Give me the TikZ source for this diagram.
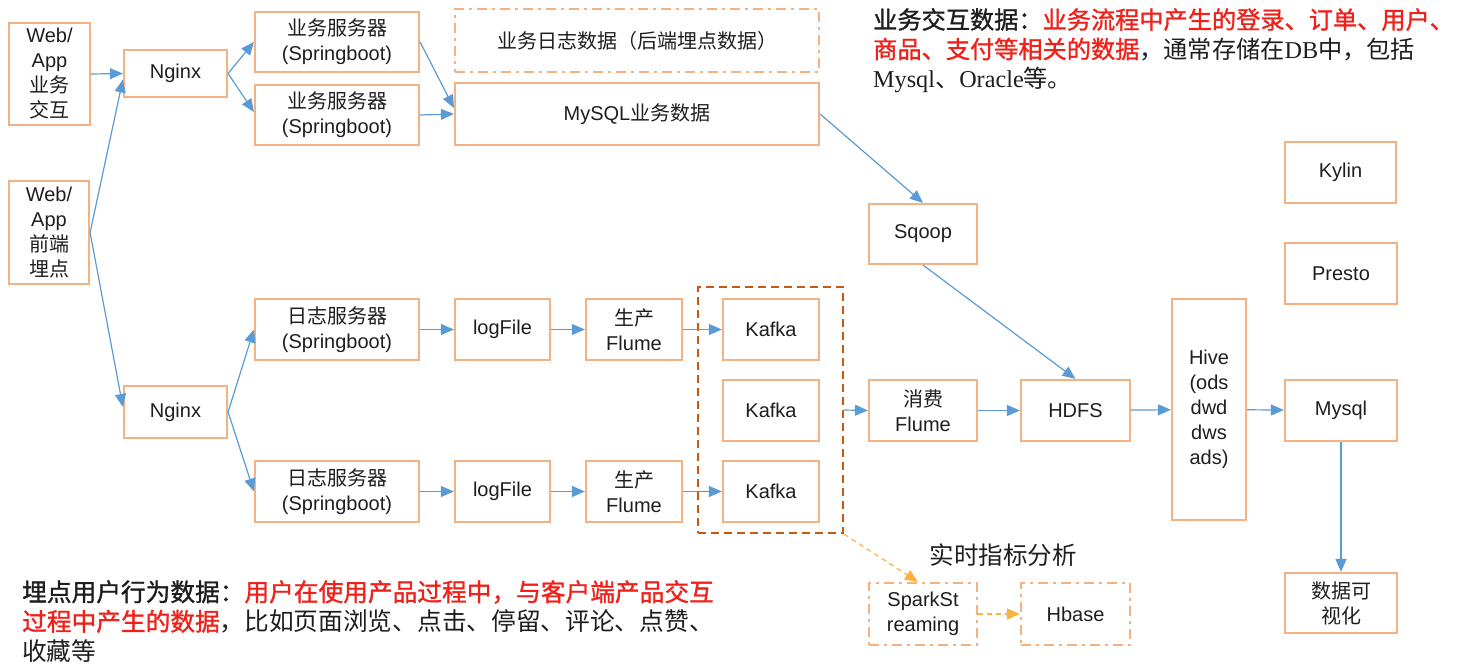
\documentclass[tikz,border=0pt]{standalone}
\usepackage{fontspec}
\setmainfont{Liberation Serif}
\setsansfont{Liberation Sans}
\newfontfamily\cjk{Noto Sans CJK SC}
\newfontfamily\cjkb[FakeBold=1.2]{Noto Sans CJK SC}
\usetikzlibrary{arrows.meta,calc}
\definecolor{boxc}{HTML}{F4B183}
\definecolor{arrc}{HTML}{5B9BD5}
\definecolor{kafc}{HTML}{C55A11}
\definecolor{goldc}{HTML}{F9B342}
\definecolor{redc}{HTML}{F0201A}
\definecolor{txtc}{HTML}{1E1E1E}
\newcommand\zh[1]{{\cjk #1}}
\tikzset{
  box/.style={draw=boxc, line width=2.2pt, align=center, inner sep=0pt, text=txtc,
    font=\sffamily\fontsize{20}{25}\selectfont},
  ddbox/.style={box, dash pattern=on 10pt off 5pt on 3pt off 5pt},
  arr/.style={draw=arrc, line width=1.2pt, -{Triangle[length=13pt,width=11pt]}},
  darr/.style={draw=goldc, line width=1.2pt, dash pattern=on 5pt off 4pt, -{Triangle[length=13pt,width=11pt]}},
  ann/.style={anchor=north west, align=left, inner sep=0pt, text=txtc, font=\fontsize{24.7}{29.5}\selectfont}
}
\begin{document}
\begin{tikzpicture}[x=1pt,y=-1pt]
\useasboundingbox (0,0) rectangle (1460,671);
% left sources
\node[box, minimum width=81pt, minimum height=102pt] (wa1) at (49.5,74) {Web/\\App\\\zh{业务}\\\zh{交互}};
\node[box, minimum width=80pt, minimum height=103pt] (wa2) at (49,232.5) {Web/\\App\\\zh{前端}\\\zh{埋点}};
\node[box, minimum width=103pt, minimum height=47pt] (ng1) at (175.5,73.5) {Nginx};
\node[box, minimum width=103pt, minimum height=52pt] (ng2) at (175.5,412) {Nginx};
% business servers
\node[box, minimum width=164pt, minimum height=60pt] (s1) at (337,42) {\zh{业务服务器}\\(Springboot)};
\node[box, minimum width=164pt, minimum height=60pt] (s2) at (337,115) {\zh{业务服务器}\\(Springboot)};
\node[ddbox, minimum width=364pt, minimum height=63pt] (logd) at (637,40.5) {\zh{业务日志数据（后端埋点数据）}};
\node[box, minimum width=364pt, minimum height=62pt] (mysqlb) at (637,114) {MySQL\zh{业务数据}};
\node[box, minimum width=108pt, minimum height=60pt] (sqoop) at (923,234) {Sqoop};
% log servers
\node[box, minimum width=164pt, minimum height=61pt] (ls1) at (337,329.5) {\zh{日志服务器}\\(Springboot)};
\node[box, minimum width=164pt, minimum height=61pt] (ls2) at (337,491.5) {\zh{日志服务器}\\(Springboot)};
\node[box, minimum width=95pt, minimum height=61pt] (lf1) at (502.5,329.5) {logFile};
\node[box, minimum width=95pt, minimum height=61pt] (lf2) at (502.5,491.5) {logFile};
\node[box, minimum width=96pt, minimum height=61pt] (fl1) at (634,329.5) {\zh{生产}\\Flume};
\node[box, minimum width=96pt, minimum height=61pt] (fl2) at (634,491.5) {\zh{生产}\\Flume};
% kafka
\node[draw=kafc, line width=2pt, dash pattern=on 8pt off 5pt, minimum width=145pt, minimum height=246pt, inner sep=0pt] (kbox) at (770.5,410) {};
\node[box, minimum width=96pt, minimum height=61pt] (k1) at (771,329.5) {Kafka};
\node[box, minimum width=96pt, minimum height=61pt] (k2) at (771,410.5) {Kafka};
\node[box, minimum width=96pt, minimum height=61pt] (k3) at (771,491.5) {Kafka};
\node[box, minimum width=108pt, minimum height=61pt] (xf) at (923,410.5) {\zh{消费}\\Flume};
\node[box, minimum width=109pt, minimum height=61pt] (hdfs) at (1075.5,410.5) {HDFS};
\node[box, minimum width=74pt, minimum height=221pt] (hive) at (1209,409.5) {Hive\\(ods\\dwd\\dws\\ads)};
\node[box, minimum width=111pt, minimum height=61pt] (kylin) at (1340.5,172.5) {Kylin};
\node[box, minimum width=112pt, minimum height=61pt] (presto) at (1341,273.5) {Presto};
\node[box, minimum width=112pt, minimum height=61pt] (mysql) at (1341,410.5) {Mysql};
\node[box, minimum width=112pt, minimum height=60pt] (vis) at (1341,603) {\zh{数据可}\\\zh{视化}};
\node[ddbox, minimum width=108pt, minimum height=62pt] (spark) at (923,614) {SparkSt\\reaming};
\node[ddbox, minimum width=109pt, minimum height=62pt] (hbase) at (1075.5,614) {Hbase};
\node[inner sep=0pt, text=txtc, font=\cjk\fontsize{24.5}{28}\selectfont] (rt) at (1003,555) {实时指标分析};
% arrows
\draw[arr] (wa1.east) -- (ng1.west);
\draw[arr] (wa2.east) -- ([yshift=-6pt]ng1.west);
\draw[arr] (wa2.east) -- ([yshift=5pt]ng2.west);
\draw[arr] (ng1.east) -- (s1.west);
\draw[arr] (ng1.east) -- ([yshift=3pt]s2.west);
\draw[arr] (s1.east) -- ([yshift=6pt]mysqlb.west);
\draw[arr] (s2.east) -- (mysqlb.west);
\draw[arr] (mysqlb.east) -- (sqoop.north);
\draw[arr] (sqoop.south) -- (hdfs.north);
\draw[arr] (ng2.east) -- (ls1.west);
\draw[arr] (ng2.east) -- (ls2.west);
\draw[arr] (ls1) -- (lf1);
\draw[arr] (lf1) -- (fl1);
\draw[arr] (fl1) -- (k1);
\draw[arr] (ls2) -- (lf2);
\draw[arr] (lf2) -- (fl2);
\draw[arr] (fl2) -- (k3);
\draw[arr] (kbox.east) -- (xf.west);
\draw[arr] (xf) -- (hdfs);
\draw[arr] (hdfs) -- (hive);
\draw[arr] (hive) -- (mysql);
\draw[arr] (mysql) -- (vis);
\draw[darr] (kbox.south east) -- ([xshift=-5pt]spark.north);
\draw[darr] (spark) -- (hbase);
% annotations
\node[ann, font=\fontsize{24.2}{29.5}\selectfont] (ann1) at (873,8) {{\cjkb 业务交互数据：}{\cjkb\color{redc}业务流程中产生的登录、订单、用户、}\\
{\cjkb\color{redc}商品、支付等相关的数据}{\cjk ，通常存储在}DB{\cjk 中，包括}\\
Mysql{\cjk 、}Oracle{\cjk 等。}};
\node[ann] (ann2) at (22,580) {{\cjkb 埋点用户行为数据：}{\cjkb\color{redc}用户在使用产品过程中，与客户端产品交互}\\
{\cjkb\color{redc}过程中产生的数据}{\cjk ，比如页面浏览、点击、停留、评论、点赞、}\\
{\cjk 收藏等}};
\end{tikzpicture}
\end{document}
